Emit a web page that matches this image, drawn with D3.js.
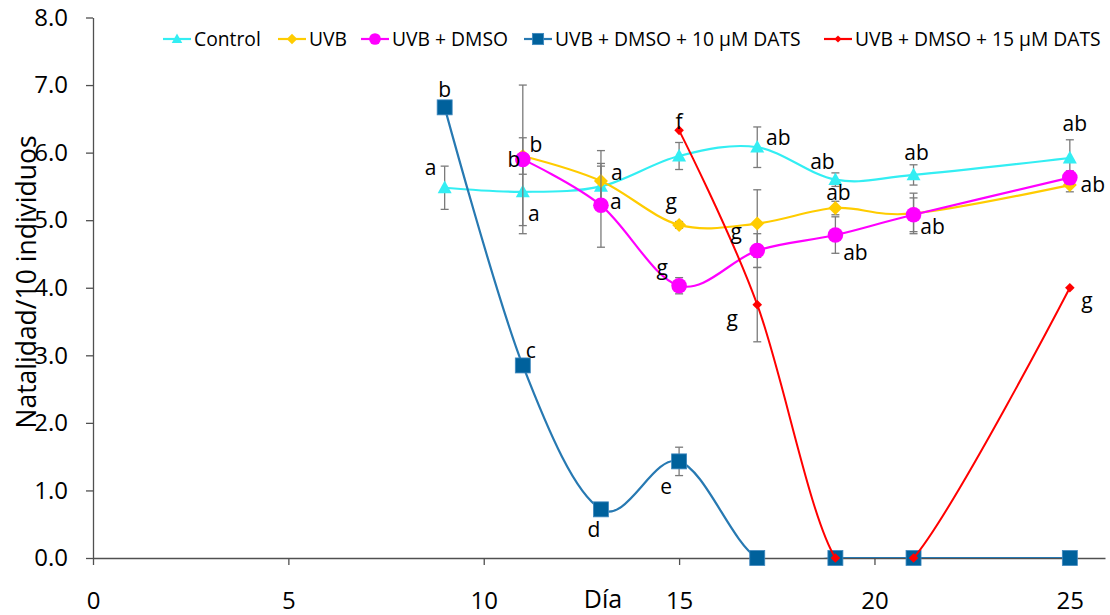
<!doctype html>
<html>
  <head>
    <meta charset="utf-8">
    <script src="https://cdnjs.cloudflare.com/ajax/libs/d3/7.8.5/d3.min.js"></script>
    <style>
      body { margin: 0; background: #fff; }
      text { font-family: "Open Sans", "Noto Sans", sans-serif; fill: #000; }
    </style>
  </head>
  <body>
    <svg id="chart" width="1110" height="615"></svg>
    <script>
        // days sampled
        var daysAll = [9, 11, 13, 15, 17, 19, 21, 25];
        var daysUvb = [11, 13, 15, 17, 19, 21, 25];
        var daysRed = [15, 17, 19, 21, 25];

        // Natalidad / 10 individuos
        var control = [5.48, 5.42, 5.50, 5.95, 6.08, 5.60, 5.67, 5.92];
        var uvb = [5.95, 5.58, 4.93, 4.95, 5.18, 5.10, 5.52];
        var uvbDmso = [5.90, 5.22, 4.03, 4.55, 4.78, 5.08, 5.63];
        var dats10 = [6.67, 2.85, 0.72, 1.43, 0, 0, 0, 0];
        var dats15 = [6.33, 3.75, 0, 0, 4.00];

        // error (+/-)
        var controlErr = [0.32, 0.50, 0.30, 0.20, 0.30, 0.10, 0.15, 0.27];
        var uvbErr = [0.27, 0.45, 0.05, 0.50, 0.10, 0.30, 0.10];
        var uvbDmsoErr = [1.10, 0.62, 0.12, 0.25, 0.27, 0.25, 0.10];
        var dats10Err = [0, 0, 0, 0.21, 0, 0, 0, 0];
        var dats15Err = [0, 0.55, 0, 0, 0];

        // significance letters
        var controlLbl = ["a", "a", "", "", "ab", "ab", "ab", "ab"];
        var uvbLbl = ["b", "a", "g", "g", "ab", "", "ab"];
        var uvbDmsoLbl = ["b", "a", "g", "", "ab", "ab", ""];
        var dats10Lbl = ["b", "c", "d", "e", "", "", "", ""];
        var dats15Lbl = ["f", "g", "", "", "g"];

        var xTicks = [0, 5, 10, 15, 20, 25];
        var yTicks = [0, 1, 2, 3, 4, 5, 6, 7, 8];

        // label offsets in px (placement only)
        var controlOff = [[-14,-20],[11,22],[0,0],[0,0],[21,-10],[-13,-18],[3,-22],[5,-34]];
        var uvbOff = [[13,-11],[16,-8],[-8,-23],[-21,8],[3,-15],[0,0],[23,0]];
        var uvbDmsoOff = [[-9,0],[15,-4],[-17,-18],[0,0],[20,18],[19,12],[0,0]];
        var dats10Off = [[0,-18],[8,-15],[-7,20],[-13,25],[0,0],[0,0],[0,0],[0,0]];
        var dats15Off = [[0,-9],[-25,14],[0,0],[0,0],[17,13]];

        // legend item start positions (layout)
        var legendX = [163, 278, 361, 524, 824];

        var series = [
            {name: "Control", days: daysAll, vals: control, err: controlErr, lbl: controlLbl, off: controlOff,
             line: "#33eef3", fill: "#33eef3", shape: "tri"},
            {name: "UVB", days: daysUvb, vals: uvb, err: uvbErr, lbl: uvbLbl, off: uvbOff,
             line: "#ffcc00", fill: "#ffcc00", shape: "dia"},
            {name: "UVB + DMSO", days: daysUvb, vals: uvbDmso, err: uvbDmsoErr, lbl: uvbDmsoLbl, off: uvbDmsoOff,
             line: "#ff00ff", fill: "#ff00ff", shape: "circ"},
            {name: "UVB + DMSO + 10 \u00b5M DATS", days: daysAll, vals: dats10, err: dats10Err, lbl: dats10Lbl, off: dats10Off,
             line: "#2779b2", fill: "#00619c", shape: "sq"},
            {name: "UVB + DMSO + 15 \u00b5M DATS", days: daysRed, vals: dats15, err: dats15Err, lbl: dats15Lbl, off: dats15Off,
             line: "#ff0000", fill: "#ff0000", shape: "smalldia"}
        ];

        var svg = d3.select("#chart");
        var x = d3.scaleLinear().domain([0, 25.9]).range([93, 1105]);
        var y = d3.scaleLinear().domain([0, 8]).range([558, 17.5]);

        svg.append("defs").append("clipPath").attr("id", "plot")
            .append("rect")
                .attr("x", x(0)).attr("y", y(8))
                .attr("width", x(25.9) - x(0)).attr("height", y(0) - y(8));

        // axes
        var axisColor = "#505050";
        var yAxis = svg.append("g")
            .attr("transform", "translate(" + x(0) + ",0)")
            .call(d3.axisLeft(y).tickValues(yTicks).tickFormat(d3.format(".1f"))
                .tickSize(7).tickSizeOuter(0).tickPadding(18));
        var xAxis = svg.append("g")
            .attr("transform", "translate(0," + y(0) + ")")
            .call(d3.axisBottom(x).tickValues(xTicks).tickFormat(d3.format("d"))
                .tickSize(7).tickSizeOuter(0).tickPadding(27));
        [xAxis, yAxis].forEach(a => {
            a.selectAll("path, line").attr("stroke", axisColor).attr("stroke-width", 1.3);
            a.selectAll("text").style("font-size", "24px").attr("fill", "#000");
        });

        svg.append("text")
            .attr("transform", "translate(27,282) rotate(-90)")
            .attr("text-anchor", "middle")
            .attr("dy", "0.35em")
            .style("font-size", "26.5px")
            .text("Natalidad/10 individuos");

        svg.append("text")
            .attr("x", 603).attr("y", 608)
            .attr("text-anchor", "middle")
            .style("font-size", "25px")
            .text("D\u00eda");

        function marker(g, s, cx, cy, big) {
            var sc = big === false ? 0.75 : 1;
            if (s.shape == "tri") {
                var h = 12 * sc, w = 7 * sc;
                g.append("path").attr("d", "M" + cx + "," + (cy - h * 0.6) + "L" + (cx + w) + "," + (cy + h * 0.45) + "L" + (cx - w) + "," + (cy + h * 0.45) + "Z")
                    .attr("fill", s.fill);
            } else if (s.shape == "dia" || s.shape == "smalldia") {
                var r = (s.shape == "dia" ? 7 : 4.8) * sc;
                g.append("path").attr("d", "M" + cx + "," + (cy - r) + "L" + (cx + r) + "," + cy + "L" + cx + "," + (cy + r) + "L" + (cx - r) + "," + cy + "Z")
                    .attr("fill", s.fill);
            } else if (s.shape == "circ") {
                g.append("circle").attr("cx", cx).attr("cy", cy).attr("r", 7.8 * sc).attr("fill", s.fill);
            } else {
                var a = 7.5 * sc;
                g.append("rect").attr("x", cx - a).attr("y", cy - a).attr("width", 2 * a).attr("height", 2 * a)
                    .attr("fill", s.fill).attr("stroke", "#3f88bf").attr("stroke-width", 0.8);
            }
        }

        var line = d3.line()
            .x(d => x(d[0]))
            .y(d => y(d[1]))
            .curve(d3.curveCardinal.tension(0));

        series.forEach(s => {
            var g = svg.append("g");
            var pts = s.days.map((d, i) => [d, s.vals[i]]);
            g.append("path")
                .datum(pts)
                .attr("clip-path", "url(#plot)")
                .attr("d", line)
                .attr("fill", "none")
                .attr("stroke", s.line)
                .attr("stroke-width", s.shape == "smalldia" ? 2 : 2.2);

            // error bars
            s.days.forEach((d, i) => {
                if (!s.err[i]) return;
                var cx = x(d), y1 = y(s.vals[i] + s.err[i]), y2 = y(s.vals[i] - s.err[i]);
                g.append("line").attr("x1", cx).attr("x2", cx).attr("y1", y1).attr("y2", y2)
                    .attr("stroke", "#7a7a7a").attr("stroke-width", 1.3);
                [y1, y2].forEach(yy => {
                    g.append("line").attr("x1", cx - 4).attr("x2", cx + 4).attr("y1", yy).attr("y2", yy)
                        .attr("stroke", "#7a7a7a").attr("stroke-width", 1.3);
                });
            });

            pts.forEach(p => marker(g, s, x(p[0]), y(p[1])));
        });

        // letters on top
        series.forEach(s => {
            s.days.forEach((d, i) => {
                if (!s.lbl[i]) return;
                svg.append("text")
                    .attr("x", x(d) + s.off[i][0])
                    .attr("y", y(s.vals[i]) + s.off[i][1])
                    .attr("dy", "0.35em")
                    .attr("text-anchor", "middle")
                    .style("font-size", "21px")
                    .text(s.lbl[i]);
            });
        });

        // legend
        var ly = 39;
        series.forEach((s, i) => {
            var lx = legendX[i];
            var lg = svg.append("g");
            lg.append("line").attr("x1", lx).attr("x2", lx + 28).attr("y1", ly).attr("y2", ly)
                .attr("stroke", s.line).attr("stroke-width", 2.2);
            marker(lg, s, lx + 14, ly, false);
            lg.append("text").attr("x", lx + 31).attr("y", ly).attr("dy", "0.35em")
                .style("font-size", "19.3px").text(s.name);
        });
    </script>
  </body>
</html>
